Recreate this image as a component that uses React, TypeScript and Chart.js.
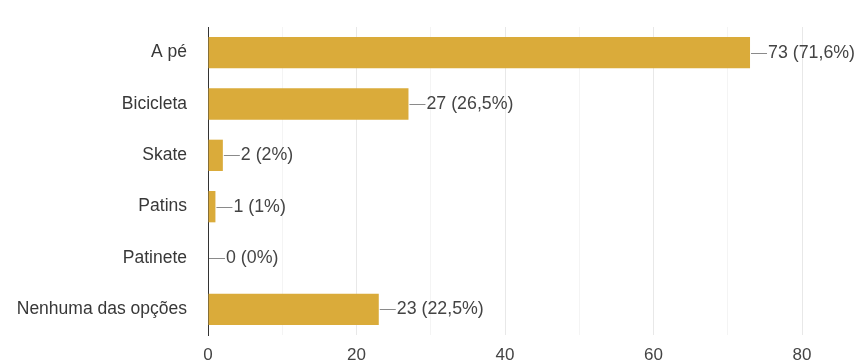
import React, { useEffect, useRef } from "react";
import { Chart, registerables } from "chart.js";

Chart.register(...registerables);

const categories = ["A pé", "Bicicleta", "Skate", "Patins", "Patinete", "Nenhuma das opções"];
const counts = [73, 27, 2, 1, 0, 23];
const percentLabels = ["71,6%", "26,5%", "2%", "1%", "0%", "22,5%"];
const xTickValues = [0, 20, 40, 60, 80];

const FONT = '"Liberation Sans", Arial, sans-serif';

const valueLabelPlugin = {
  id: "valueLabels",
  afterDatasetsDraw(chart: any) {
    const ctx = chart.ctx;
    const meta = chart.getDatasetMeta(0);
    ctx.save();
    meta.data.forEach((bar: any, i: number) => {
      const x = bar.x;
      const y = bar.y;
      ctx.strokeStyle = "#8a8a8a";
      ctx.lineWidth = 1;
      ctx.beginPath();
      ctx.moveTo(x + 1, Math.round(y) + 0.5);
      ctx.lineTo(x + 17, Math.round(y) + 0.5);
      ctx.stroke();
      ctx.fillStyle = "#444";
      ctx.font = `17.8px ${FONT}`;
      ctx.textAlign = "left";
      ctx.textBaseline = "middle";
      ctx.fillText(`${counts[i]} (${percentLabels[i]})`, x + 18, y);
    });
    ctx.restore();
  },
};

export default function App() {
  const canvasRef = useRef<HTMLCanvasElement | null>(null);

  useEffect(() => {
    if (!canvasRef.current) return;
    const chart = new Chart(canvasRef.current, {
      type: "bar",
      data: {
        labels: categories,
        datasets: [
          {
            data: counts,
            backgroundColor: "#DAAB3A",
            borderWidth: 0,
            categoryPercentage: 1,
            barPercentage: 0.61,
          },
        ],
      },
      plugins: [valueLabelPlugin],
      options: {
        indexAxis: "y",
        animation: false,
        responsive: false,
        devicePixelRatio: 1,
        layout: { padding: { top: 27, right: 56, left: 0, bottom: 0 } },
        plugins: {
          legend: { display: false },
          tooltip: { enabled: false },
        },
        scales: {
          x: {
            min: 0,
            max: 80,
            ticks: {
              stepSize: 10,
              padding: 10,
              color: "#444",
              font: { family: FONT, size: 17 },
              callback: (v: any) => (xTickValues.includes(Number(v)) ? String(v) : ""),
              maxRotation: 0,
              autoSkip: false,
            },
            grid: {
              drawTicks: false,
              color: (c: any) => (c.tick && c.tick.value % 20 === 0 ? "#e8e8e8" : "#f4f4f4"),
            },
            border: { display: false },
            afterFit: (scale: any) => {
              scale.height = 28;
              scale.paddingLeft = 0;
              scale.paddingRight = 0;
            },
          },
          y: {
            ticks: {
              padding: 21,
              color: "#383838",
              font: { family: FONT, size: 17.5 },
              autoSkip: false,
            },
            grid: { display: false, drawTicks: false },
            border: { display: true, color: "#333", width: 1 },
            afterFit: (scale: any) => {
              scale.width = 208;
              scale.paddingTop = 0;
              scale.paddingBottom = 0;
            },
          },
        },
      },
    } as any);
    return () => chart.destroy();
  }, []);

  return (
    <div style={{ position: "fixed", left: 0, top: 0, width: 858, height: 363, background: "#fff" }}>
      <canvas ref={canvasRef} width={858} height={363} style={{ width: 858, height: 363 }} />
    </div>
  );
}
